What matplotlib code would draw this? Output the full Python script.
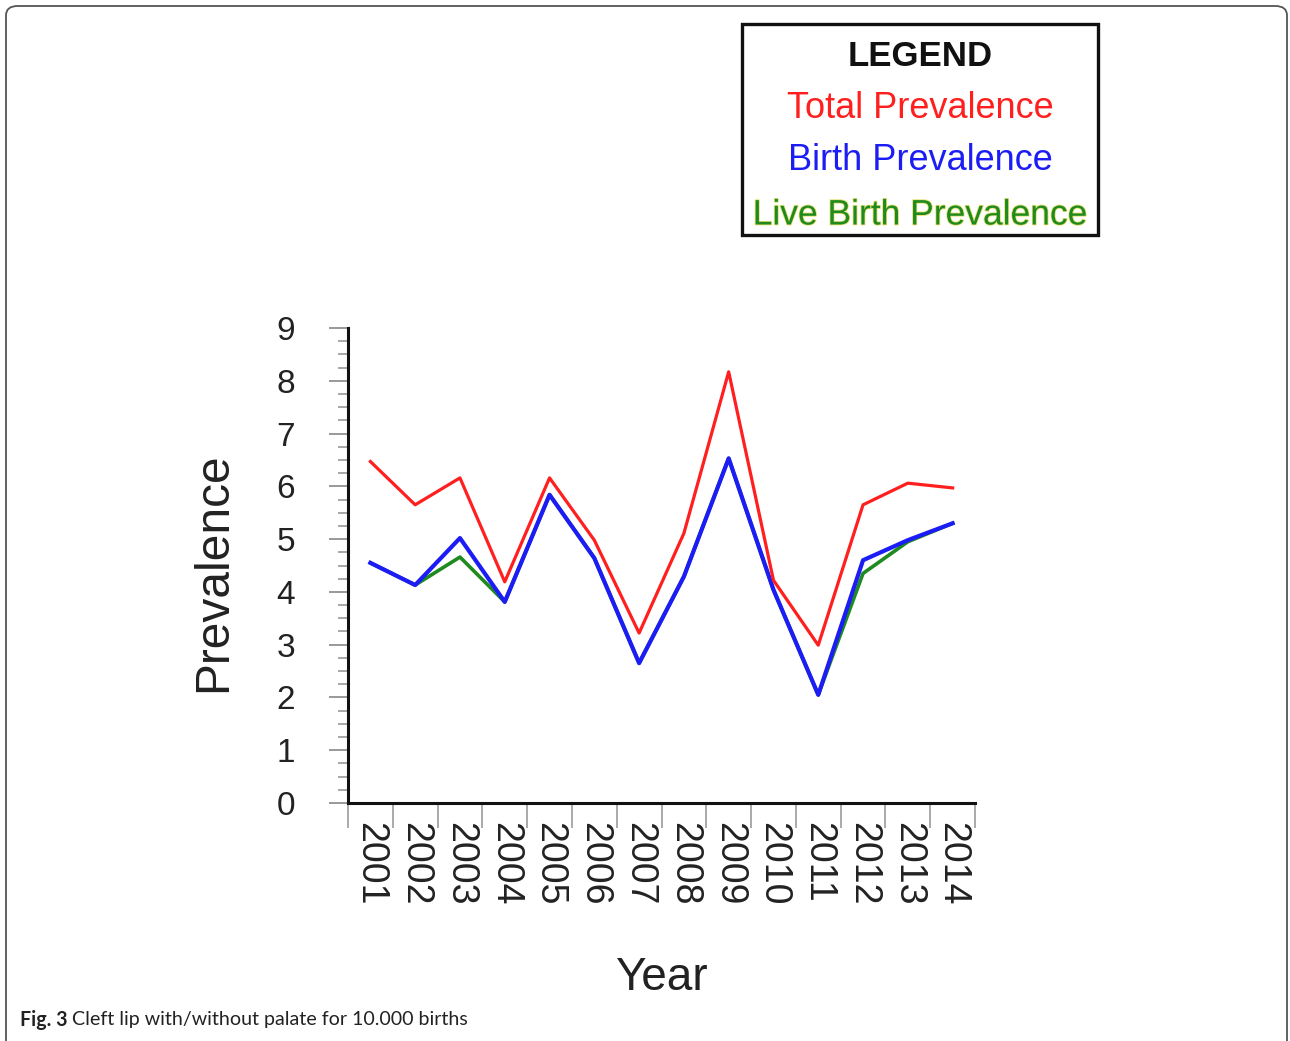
import numpy as np
import matplotlib
matplotlib.use('Agg')
import matplotlib.pyplot as plt
import matplotlib.patheffects as pe
from matplotlib.patches import FancyBboxPatch, Rectangle
from matplotlib.ticker import MultipleLocator, FixedLocator

# ─── data ───
YEARS = [str(y) for y in range(2001, 2015)]
TOTAL = [6.47, 5.65, 6.16, 4.19, 6.16, 4.98, 3.22, 5.11, 8.17, 4.22, 2.99, 5.65, 6.06, 5.97]
BIRTH = [4.55, 4.13, 5.02, 3.81, 5.84, 4.64, 2.65, 4.29, 6.53, 4.04, 2.05, 4.60, 4.98, 5.30]
LIVE  = [4.55, 4.13, 4.66, 3.81, 5.84, 4.64, 2.65, 4.29, 6.53, 4.04, 2.05, 4.35, 4.95, 5.30]

C_TOT = '#ff1f1f'
C_BIR = '#1c1cf5'
C_LIV = '#1f8a1f'

plt.rcParams['font.family'] = ['Liberation Sans', 'DejaVu Sans']

fig = plt.figure(figsize=(12.9, 10.41), dpi=100)
ax = fig.add_axes([348/1290, 1-803/1041, 627/1290, 475/1041])

x = np.arange(len(YEARS))
ax.plot(x, LIVE,  color=C_LIV, lw=2.6, zorder=3)
ax.plot(x, BIRTH, color=C_BIR, lw=3.0, zorder=4)
ax.plot(x, TOTAL, color=C_TOT, lw=2.3, zorder=5)

ax.set_xlim(-0.5, len(YEARS) - 0.5)
ax.set_ylim(0, 9)

# spines
for s in ['top', 'right']:
    ax.spines[s].set_visible(False)
for s in ['left', 'bottom']:
    ax.spines[s].set_linewidth(2.2)
    ax.spines[s].set_color('#111')

# y ticks
ax.yaxis.set_major_locator(MultipleLocator(1))
ax.yaxis.set_minor_locator(MultipleLocator(0.25))
ax.tick_params(axis='y', which='major', length=14, width=1.4, color='#999',
               labelsize=24, pad=24, labelcolor='#222')
ax.tick_params(axis='y', which='minor', length=7, width=1.2, color='#999')

# x ticks: labels at years, grey ticks between
ax.set_xticks(x)
ax.set_xticklabels(YEARS, rotation=-90, va='top', ha='center')
ax.xaxis.set_minor_locator(FixedLocator(np.arange(-0.5, len(YEARS), 1.0)))
ax.tick_params(axis='x', which='major', length=0, labelsize=27, pad=14, labelcolor='#222')
ax.tick_params(axis='x', which='minor', length=18, width=1.4, color='#aaa')

ax.set_ylabel('Prevalence', fontsize=34.5, color='#222')
ax.yaxis.set_label_coords(-0.178, 0.486)
ax.set_xlabel('Year', fontsize=33, color='#222')
ax.xaxis.set_label_coords(0.5, -0.322)

# ─── legend box (coloured text, no handles) ───
fig.patches.append(Rectangle((742/1290, 1-235/1041), 356/1290, 211/1041,
                             transform=fig.transFigure, fill=False,
                             edgecolor='#111', linewidth=2.4))
lx = 920/1290
fig.text(lx, 1-56/1041, 'LEGEND', fontsize=25, fontweight='bold',
         ha='center', va='center', color='#111')
fig.text(lx, 1-108/1041, 'Total Prevalence', fontsize=26, ha='center', va='center', color=C_TOT)
fig.text(lx, 1-161/1041, 'Birth Prevalence', fontsize=26, ha='center', va='center', color=C_BIR)
fig.text(lx, 1-215/1041, 'Live Birth Prevalence', fontsize=25.5, ha='center', va='center',
         color=C_LIV, path_effects=[pe.withStroke(linewidth=1.2, foreground='#e6e070')])

# ─── outer frame + caption ───
fig.patches.append(FancyBboxPatch((6/1290, -0.02), 1281/1290, 1.0 - 6/1041 + 0.02,
                                  boxstyle='round,pad=0,rounding_size=0.009',
                                  transform=fig.transFigure, fill=False,
                                  edgecolor='#555', linewidth=1.3))
cap_font = ['Lato', 'DejaVu Sans']
t1 = fig.text(20/1290, 1-1020/1041, 'Fig. 3 ', fontsize=14.1, fontweight='bold',
              ha='left', va='center', family=cap_font, color='#222')
fig.canvas.draw()
bb = t1.get_window_extent()
fig.text(bb.x1/1290, 1-1020/1041, 'Cleft lip with/without palate for 10.000 births',
         fontsize=14.1, ha='left', va='center', family=cap_font, color='#222')

fig.savefig('out.png', dpi=100)
